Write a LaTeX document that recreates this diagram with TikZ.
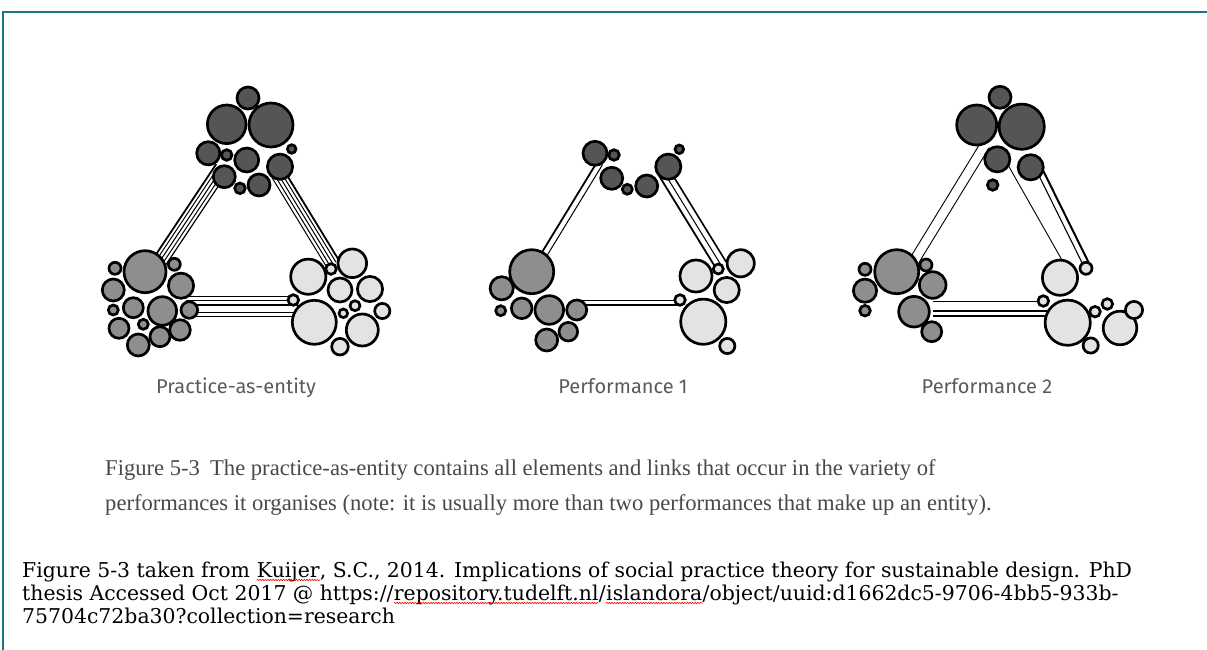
\documentclass[tikz,border=0pt]{standalone}
\usepackage{fontspec}
\setmainfont{Liberation Serif}
\newfontfamily\labfont{Fira Sans}
\newfontfamily\capfont{Liberation Serif}
\newfontfamily\citefont{DejaVu Serif}
\usetikzlibrary{calc,decorations.pathmorphing}
\definecolor{darkfill}{HTML}{555555}
\definecolor{midfill}{HTML}{8E8E8E}
\definecolor{lightfill}{HTML}{E3E3E3}
\definecolor{frameteal}{HTML}{1C7585}
\definecolor{labgray}{HTML}{5A5A5A}
\definecolor{capgray}{HTML}{484848}
\newcommand\bub[5]{\node[#1, minimum size={(2*#5-1.4)*1pt}] (#2) at (#3,#4) {};}
\newcommand\band[3]{\foreach \o/\w in {#3}{\draw[line width=\w pt] ($(#1)!\o pt!90:(#2)$) -- ($(#2)!\o pt!-90:(#1)$);}}
\tikzset{
  bubble/.style={circle, draw=black, line width=2.7pt, inner sep=0pt, outer sep=0pt},
  dk/.style={bubble, fill=darkfill},
  md/.style={bubble, fill=midfill},
  lt/.style={bubble, fill=lightfill},
  lab/.style={font=\labfont\fontsize{20}{24}\selectfont, text=labgray, inner sep=0pt, anchor=base},
  capt/.style={font=\capfont\fontsize{22.6}{26}\selectfont, text=capgray, inner sep=0pt, anchor=base west},
  cite/.style={font=\citefont\fontsize{20.4}{23}\selectfont, text=black, inner sep=0pt, anchor=base west},
  wavy/.style={draw=red, line width=0.6pt, decorate, decoration={snake, amplitude=0.7pt, segment length=2.6pt}},
  frame/.style={draw=frameteal, line width=2.2pt},
}
\begin{document}
\begin{tikzpicture}[x=1pt, y=-1pt]
\useasboundingbox (0,0) rectangle (1207,650);
% frame
\coordinate (fbl) at (3,650);
\coordinate (ftl) at (3,12);
\coordinate (ftr) at (1207,12);
\draw[frame] (fbl) -- (ftl) -- (ftr);

% ---------- link end points ----------
\coordinate (eTLa) at (222,168);  \coordinate (eTLb) at (160,261);
\coordinate (eTRa) at (278,174);  \coordinate (eTRb) at (333,264);
\coordinate (eBa)  at (186,306);  \coordinate (eBb)  at (298,306);
\coordinate (pLa) at (600,163);   \coordinate (pLb) at (542,258);
\coordinate (pRa) at (665,174);   \coordinate (pRb) at (721,265);
\coordinate (pBa) at (575,302.5); \coordinate (pBb) at (683,302.5);
\coordinate (qLa) at (985,145);   \coordinate (qLb) at (914,261);
\coordinate (qSa) at (1008,165);  \coordinate (qSb) at (1062.5,261);
\coordinate (qRa) at (1040.5,172);\coordinate (qRb) at (1086,264);
\coordinate (qBa) at (933,308);   \coordinate (qBb) at (1047,308);

% ---------- links ----------
\band{eTLa}{eTLb}{-7/1.8,-3.5/1.0,0/1.0,3.5/1.0,7/1.2}
\band{eTRa}{eTRb}{-7/1.0,-3.5/1.0,0/1.0,3.5/1.0,7/1.8}
\band{eBa}{eBb}{10/1.0,6/1.0,1/2.6,-6/1.0,-10/1.0}
\band{pLa}{pLb}{-3/1.8,3/1.0}
\band{pRa}{pRb}{-6/1.8,0/1.0,6/1.6}
\band{pBa}{pBb}{2.5/1.0,-2.5/1.6}
\band{qLa}{qLb}{-5/0.9,5/0.9}
\band{qSa}{qSb}{0/0.9}
\band{qRa}{qRb}{-3/1.1,3/2.0}
\band{qBa}{qBb}{7/0.9,-3/1.1,-8/1.1}

% ---------- Practice-as-entity ----------
\bub{dk}{e1}{248}{98}{11.7}
\bub{dk}{e2}{226.7}{124.3}{20}
\bub{dk}{e3}{271}{125}{22.7}
\bub{dk}{e4}{208.3}{153.3}{12.3}
\bub{dk}{e5}{226.7}{155}{6}
\bub{dk}{e6}{246.7}{160}{12.7}
\bub{dk}{e7}{280}{166.7}{13.3}
\bub{dk}{e8}{291.7}{149}{5}
\bub{dk}{e9}{224.3}{176.7}{11.7}
\bub{dk}{e10}{240}{188.3}{6}
\bub{dk}{e11}{259}{185}{11.7}

\bub{md}{f1}{145}{271.7}{21.7}
\bub{md}{f2}{115}{268.3}{6.7}
\bub{md}{f3}{174.3}{264.3}{6.7}
\bub{md}{f4}{113.3}{290}{11.7}
\bub{md}{f5}{181}{285.7}{13.3}
\bub{md}{f6}{133.3}{307.7}{10.7}
\bub{md}{f7}{162.3}{311}{15}
\bub{md}{f8}{189.3}{310}{9}
\bub{md}{f9}{113.3}{310}{5.7}
\bub{md}{f10}{119}{328.3}{10.7}
\bub{md}{f11}{143.3}{324.3}{5.7}
\bub{md}{f12}{180}{330}{11}
\bub{md}{f13}{160}{336.7}{10.7}
\bub{md}{f14}{138.3}{345}{11.7}

\bub{lt}{g1}{308.3}{276.7}{18.3}
\bub{lt}{g2}{352.3}{263.3}{15}
\bub{lt}{g3}{331}{269}{6}
\bub{lt}{g4}{340}{290}{12.7}
\bub{lt}{g5}{370}{289}{13.3}
\bub{lt}{g6}{293.3}{300}{6}
\bub{lt}{g7}{314.3}{322.3}{22.7}
\bub{lt}{g8}{355}{305.7}{5.7}
\bub{lt}{g9}{343.3}{313.3}{5}
\bub{lt}{g10}{382.3}{311}{8.3}
\bub{lt}{g11}{362.3}{330}{16.7}
\bub{lt}{g12}{340}{346.7}{9}

% ---------- Performance 1 ----------
\bub{dk}{h1}{595}{153.3}{12.7}
\bub{dk}{h2}{614}{155}{6}
\bub{dk}{h3}{611.7}{178.3}{11.7}
\bub{dk}{h4}{627.3}{189.3}{5.7}
\bub{dk}{h5}{646.7}{186}{11.7}
\bub{dk}{h6}{668.3}{166.7}{13.3}
\bub{dk}{h7}{679.3}{149.3}{5}

\bub{md}{i1}{531.7}{271.7}{22.7}
\bub{md}{i2}{501.7}{288.3}{12.3}
\bub{md}{i3}{521.7}{308.3}{11}
\bub{md}{i4}{500.7}{310.7}{5.7}
\bub{md}{i5}{549.3}{310}{15}
\bub{md}{i6}{576.7}{310}{10.7}
\bub{md}{i7}{568.3}{331.7}{10}
\bub{md}{i8}{546.7}{340}{11.7}

\bub{lt}{j1}{696}{276}{16.7}
\bub{lt}{j2}{740.7}{263.3}{14.3}
\bub{lt}{j3}{718.3}{269}{5.7}
\bub{lt}{j4}{726.7}{290}{13.3}
\bub{lt}{j5}{680}{300}{6}
\bub{lt}{j6}{703.3}{321.7}{23.3}
\bub{lt}{j7}{727.3}{346}{8.3}

% ---------- Performance 2 ----------
\bub{dk}{k1}{1000}{97.3}{11.7}
\bub{dk}{k2}{976.7}{125}{20.7}
\bub{dk}{k3}{1021.7}{126.7}{23.3}
\bub{dk}{k4}{997.3}{159.3}{13.3}
\bub{dk}{k5}{1030.7}{167.3}{13.3}
\bub{dk}{k6}{992.7}{185}{6}

\bub{md}{m1}{896.7}{271.7}{22.7}
\bub{md}{m2}{865}{269.3}{6.7}
\bub{md}{m3}{926}{265}{6.7}
\bub{md}{m4}{865}{290.7}{12.3}
\bub{md}{m5}{932.7}{285}{14}
\bub{md}{m6}{865}{310.7}{6}
\bub{md}{m7}{914}{311.7}{16}
\bub{md}{m8}{931.7}{331.7}{10.7}

\bub{lt}{n1}{1060}{277.7}{18.3}
\bub{lt}{n2}{1086}{268.3}{6.7}
\bub{lt}{n3}{1043.3}{301}{6}
\bub{lt}{n4}{1067.7}{322.7}{23.3}
\bub{lt}{n5}{1095}{311.7}{6}
\bub{lt}{n6}{1107.3}{304}{6}
\bub{lt}{n7}{1120}{328}{17.5}
\bub{lt}{n8}{1134}{310}{9.3}
\bub{lt}{n9}{1090.7}{345.5}{8.3}

% ---------- labels ----------
\node[lab] (lab1) at (236,393) {Practice-as-entity};
\node[lab] (lab2) at (623,393) {Performance 1};
\node[lab] (lab3) at (987,393) {Performance 2};

% ---------- caption ----------
\node[capt] (cap1) at (105,475) {Figure 5-3\hspace{0.45em}The practice-as-entity contains all elements and links that occur in the variety of};
\node[capt] (cap2) at (105,510) {performances it organises (note: it is usually more than two performances that make up an entity).};

% ---------- citation ----------
\node[cite] (c1a) at (22,577) {Figure 5-3 taken from\ \mbox{}};
\node[cite] (c1b) at (c1a.base east) {Kuijer};
\node[cite] (c1c) at (c1b.base east) {, S.C., 2014. Implications of social practice theory for sustainable design. PhD};
\node[cite] (c2a) at (22,600) {thesis Accessed Oct 2017 @ https://};
\node[cite] (c2b) at (c2a.base east) {repository.tudelft.nl};
\node[cite] (c2c) at (c2b.base east) {/};
\node[cite] (c2d) at (c2c.base east) {islandora};
\node[cite] (c2e) at (c2d.base east) {/object/uuid:d1662dc5-9706-4bb5-933b-};
\node[cite] (c3a) at (22,623) {75704c72ba30?collection=research};
\draw[wavy] ($(c1b.base west)+(0,3)$) -- ($(c1b.base east)+(0,3)$);
\draw[wavy] ($(c2b.base west)+(0,3)$) -- ($(c2b.base east)+(0,3)$);
\draw[wavy] ($(c2d.base west)+(0,3)$) -- ($(c2d.base east)+(0,3)$);
\end{tikzpicture}
\end{document}
